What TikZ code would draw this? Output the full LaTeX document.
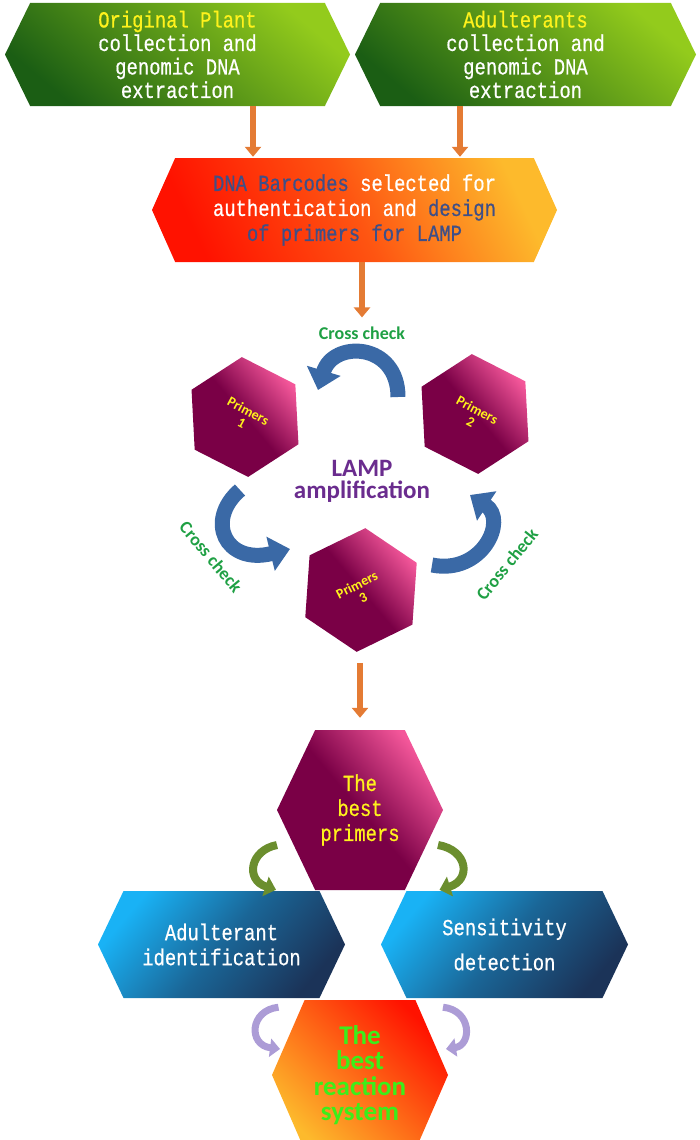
\documentclass[tikz,border=0pt]{standalone}
\usepackage{fontspec}
\usetikzlibrary{shapes.geometric,shapes.symbols,arrows.meta,calc}
\newfontfamily\boxfont[FakeStretch=0.82,FakeBold=0.6]{Liberation Mono}
\newfontfamily\calfont{Carlito}
\definecolor{leafdark}{HTML}{1B5E14}
\definecolor{leaflight}{HTML}{93CB1C}
\definecolor{hotred}{HTML}{FF1200}
\definecolor{sunny}{HTML}{FDBA2C}
\definecolor{skyblue}{HTML}{19B2F5}
\definecolor{navy}{HTML}{1B3358}
\definecolor{plum}{HTML}{7A0046}
\definecolor{rosy}{HTML}{F4579A}
\definecolor{slateblue}{HTML}{3E4F88}
\definecolor{lemon}{HTML}{FFF21C}
\definecolor{checkgreen}{HTML}{1FA044}
\definecolor{lampviolet}{HTML}{6A2C8E}
\definecolor{limegreen}{HTML}{3CEE1A}
\definecolor{feedorange}{HTML}{E47B34}
\definecolor{loopblue}{HTML}{3A69A6}
\definecolor{olive}{HTML}{6B8E2E}
\definecolor{lilac}{HTML}{AC9CD6}
\tikzset{
  flowbox/.style={signal, signal to=west and east, inner sep=0pt, align=center,
    text=white, font=\boxfont\fontsize{23}{23.5}\selectfont},
  greenbox/.style={flowbox, top color=leaflight, bottom color=leafdark, shading angle=-40,
    signal pointer angle=128, minimum width=#1, minimum height=103pt},
  hexprimer/.style={regular polygon, regular polygon sides=6, minimum size=120pt, inner sep=0pt,
    top color=rosy, bottom color=plum, middle color=plum, shading angle=-50},
  primerlabel/.style={text=lemon, align=center, font=\calfont\bfseries\fontsize{14}{14}\selectfont},
  checklabel/.style={text=checkgreen, inner sep=0pt, font=\calfont\bfseries\fontsize{18}{18}\selectfont},
  feed/.style={line width=6pt, draw=feedorange, -{Triangle[width=16pt,length=10pt]}},
  crossarrow/.style={line width=15pt, draw=loopblue, -{Triangle[width=34pt,length=20pt]}},
  bendgreen/.style={line width=8pt, draw=olive, -{Triangle[width=20pt,length=11pt]}},
  bendlilac/.style={line width=7pt, draw=lilac, -{Triangle[width=18pt,length=10pt]}},
}
\begin{document}
\begin{tikzpicture}[x=1pt,y=-1pt]
\useasboundingbox (0,0) rectangle (700,1140);
% sample collection
\node[greenbox=345pt] (orig) at (177.5,54.5) {\textcolor{lemon}{Original Plant}\\collection and\\genomic DNA\\extraction};
\node[greenbox=341pt] (adul) at (525.5,54.5) {\textcolor{lemon}{Adulterants}\\collection and\\genomic DNA\\extraction};
% barcodes
\node[flowbox, top color=sunny, bottom color=hotred, middle color=hotred!60!sunny, shading angle=-65,
  signal pointer angle=132, minimum width=405pt, minimum height=104pt, font=\boxfont\fontsize{23}{25}\selectfont]
  (barcode) at (354.5,210) {\textcolor{slateblue}{DNA Barcodes} selected for\\authentication and \textcolor{slateblue}{design}\\\textcolor{slateblue}{of primers for LAMP}};
% LAMP cycle
\node[hexprimer, shape border rotate=33] (p1) at (245,417) {};
\node[hexprimer, shape border rotate=33] (p2) at (475,414) {};
\node[hexprimer, shape border rotate=26, minimum size=124pt] (p3) at (361,590) {};
\node[primerlabel, rotate=-28] (t1) at (245,417) {Primers\\1};
\node[primerlabel, rotate=-28] (t2) at (474,416) {Primers\\2};
\node[primerlabel, rotate=27] (t3) at (360,591) {Primers\\3};
\node[text=lampviolet, align=center, font=\calfont\bfseries\fontsize{25}{22}\selectfont] (lamp) at (362,481) {LAMP\\amplification};
\node[checklabel] (ccTop) at (362,333) {Cross check};
\node[checklabel, rotate=-50] (ccLeft) at (211,557) {Cross check};
\node[checklabel, rotate=51] (ccRight) at (507,564) {Cross check};
% best primers and tests
\node[flowbox, top color=rosy, bottom color=plum, middle color=plum, shading angle=-50,
  signal pointer angle=129, minimum width=166pt, minimum height=160pt, text=lemon,
  font=\boxfont\fontsize{23}{25}\selectfont] (best) at (360,810) {The\\best\\primers};
\node[flowbox, top color=skyblue, bottom color=navy, middle color=skyblue!40!navy, shading angle=50,
  signal pointer angle=129, minimum width=247pt, minimum height=107pt,
  font=\boxfont\fontsize{23}{25}\selectfont] (ident) at (221.5,944.5) {Adulterant\\identification};
\node[flowbox, top color=skyblue, bottom color=navy, middle color=skyblue!40!navy, shading angle=50,
  signal pointer angle=129, minimum width=247pt, minimum height=107pt,
  font=\boxfont\fontsize{23}{35}\selectfont] (sens) at (504.5,944.5) {Sensitivity\\detection};
\node[flowbox, top color=hotred, bottom color=sunny, shading angle=-45,
  signal pointer angle=133, minimum width=176pt, minimum height=150pt, text=limegreen,
  font=\calfont\bfseries\fontsize{27}{25.5}\selectfont] (system) at (360,1075) {The\\best\\reaction\\system};
% connectors
\draw[feed] ($(orig.south)+(75.5,0)$) -- ($(barcode.north)+(-101.5,-1)$);
\draw[feed] ($(adul.south)+(-65.5,0)$) -- ($(barcode.north)+(105.5,-1)$);
\draw[feed] ($(barcode.south)+(7.5,0)$) -- ([yshift=9pt]ccTop.north);
\draw[feed] ($(best.north)+(0,-67)$) -- ($(best.north)+(0,-12)$);
\draw[crossarrow] ($(p2)+(-77,-17)$) .. controls +(0,-55) and +(15,-50) .. ($(p1)+(73,-27)$);
\draw[crossarrow] ($(p1)+(-5,73)$) .. controls +(-35,30) and +(-65,16) .. ($(p3)+(-71,-41)$);
\draw[crossarrow] ($(p3)+(71,-25)$) .. controls +(50,10) and +(38,25) .. ($(p2)+(-5,81)$);
\draw[bendgreen] ($(best)+(-83,35)$) .. controls +(-27,5) and +(-31,-10) .. ($(ident.north)+(54.5,-1)$);
\draw[bendgreen] ($(best)+(78,35)$) .. controls +(30,5) and +(32,-10) .. ($(sens.north)+(-65,-1)$);
\draw[bendlilac] ($(ident.south)+(57,9)$) .. controls +(-29,3) and +(-32,-4) .. ($(system)+(-80,-26)$);
\draw[bendlilac] ($(sens.south)+(-61.5,9)$) .. controls +(29,3) and +(26,-4) .. ($(system)+(86,-26)$);
\end{tikzpicture}
\end{document}
